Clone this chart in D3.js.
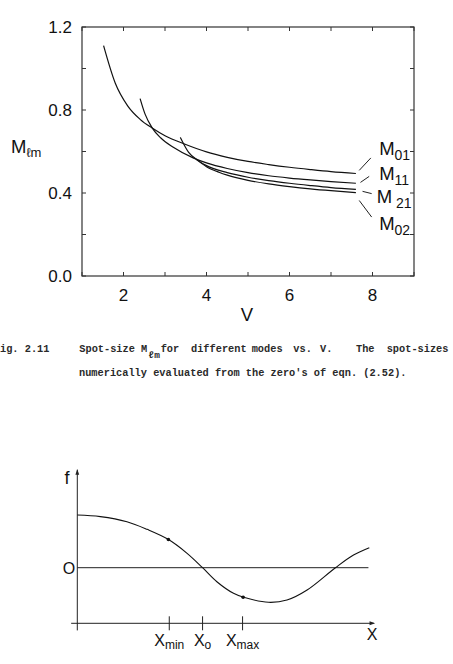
<!DOCTYPE html>
<html>
<head>
<meta charset="utf-8">
<script src="https://cdn.jsdelivr.net/npm/d3@7"></script>
<style>
	body { margin: 0; background: #fff; }
	svg { display: block; background: #fff; }
	.sans { font-family: 'Liberation Sans', Arial, Helvetica, sans-serif; fill: #111; }
	.mono { font-family: 'Liberation Mono', 'DejaVu Sans Mono', monospace; fill: #2a2a2a; font-size: 10.3px; font-weight: bold; }
</style>
</head>
<body>
<svg id="svg" width="453" height="664"></svg>
<script>
const $svg = d3.select('#svg')

// ---- top figure data: spot-size M vs V ----
const V_LABELS = [2, 4, 6, 8]
const M_LABELS = [0, 0.4, 0.8, 1.2]
const V_MINOR = [1, 2, 3, 4, 5, 6, 7, 8, 9]
const M_MINOR = [0, 0.2, 0.4, 0.6, 0.8, 1.0, 1.2]

const modeNames = ['01', '11', '21', '02']

const m01 = [[1.52, 1.11], [1.8, 0.93], [2.1, 0.82], [2.4, 0.755], [2.7, 0.712], [3.0, 0.676],
	[3.5, 0.634], [4.0, 0.598], [4.5, 0.572], [5.0, 0.552], [5.5, 0.537], [6.0, 0.524],
	[6.5, 0.513], [7.0, 0.503], [7.6, 0.494]]
const m11 = [[2.4, 0.855], [2.52, 0.78], [2.69, 0.714], [2.9, 0.665], [3.2, 0.62], [3.69, 0.568],
	[4.0, 0.545], [4.5, 0.518], [5.0, 0.498], [5.5, 0.483], [6.0, 0.472], [6.5, 0.463],
	[7.0, 0.455], [7.6, 0.447]]
const m21 = [[3.37, 0.668], [3.57, 0.596], [3.8, 0.556], [4.0, 0.532], [4.5, 0.498], [5.0, 0.476],
	[5.5, 0.46], [6.0, 0.447], [6.5, 0.436], [7.0, 0.426], [7.6, 0.417]]
const m02 = [[3.75, 0.562], [4.0, 0.527], [4.3, 0.5], [4.5, 0.486], [5.0, 0.461], [5.5, 0.444],
	[6.0, 0.431], [6.5, 0.42], [7.0, 0.411], [7.6, 0.402]]

// ---- bottom figure data: f vs X ----
const fCurve = [[0, 1.0], [0.79, 0.97], [1.7, 0.873], [2.39, 0.728], [3.11, 0.539], [3.76, 0.273],
	[4.29, 0], [4.78, -0.266], [5.35, -0.486], [5.7, -0.562], [6.55, -0.657], [7.18, -0.613],
	[7.87, -0.423], [8.84, 0], [9.46, 0.241], [10.0, 0.38]]
const markNames = ['min', 'o', 'max']
const markX = [3.15, 4.29, 5.66]
const dotX = [3.12, 5.68]
const dotF = [0.535, -0.56]

// ================= top chart =================
const frame = { left: 82, right: 414, top: 27, bottom: 276 }

const xScale = d3.scaleLinear().domain([1, 9]).range([frame.left, frame.right])
const yScale = d3.scaleLinear().domain([0, 1.2]).range([frame.bottom, frame.top])

const $top = $svg.append('g')

$top.append('rect')
	.attr('x', frame.left)
	.attr('y', frame.top)
	.attr('width', frame.right - frame.left)
	.attr('height', frame.bottom - frame.top)
	.attr('fill', 'none')
	.attr('stroke', '#333')
	.attr('stroke-width', 1.2)

const TICK = 4
const tickStyle = sel => sel.attr('stroke', '#333').attr('stroke-width', 1)

V_MINOR.forEach(v => {
	$top.append('line').call(tickStyle)
		.attr('x1', xScale(v)).attr('x2', xScale(v))
		.attr('y1', frame.bottom).attr('y2', frame.bottom - TICK)
	$top.append('line').call(tickStyle)
		.attr('x1', xScale(v)).attr('x2', xScale(v))
		.attr('y1', frame.top).attr('y2', frame.top + TICK)
})
M_MINOR.forEach(m => {
	$top.append('line').call(tickStyle)
		.attr('x1', frame.left).attr('x2', frame.left + TICK)
		.attr('y1', yScale(m)).attr('y2', yScale(m))
	$top.append('line').call(tickStyle)
		.attr('x1', frame.right).attr('x2', frame.right - TICK)
		.attr('y1', yScale(m)).attr('y2', yScale(m))
})

$top.selectAll('.xlab').data(V_LABELS).enter().append('text')
	.attr('class', 'sans')
	.attr('x', d => xScale(d))
	.attr('y', 301)
	.attr('text-anchor', 'middle')
	.attr('font-size', 17)
	.text(d => d)

$top.selectAll('.ylab').data(M_LABELS).enter().append('text')
	.attr('class', 'sans')
	.attr('x', 72)
	.attr('y', d => yScale(d) + 6)
	.attr('text-anchor', 'end')
	.attr('font-size', 17)
	.text(d => d3.format('.1f')(d))

$top.append('text')
	.attr('class', 'sans')
	.attr('x', 247)
	.attr('y', 321)
	.attr('text-anchor', 'middle')
	.attr('font-size', 18.5)
	.text('V')

const yTitle = $top.append('text')
	.attr('class', 'sans')
	.attr('x', 11)
	.attr('y', 153)
	.attr('font-size', 18.5)
yTitle.append('tspan').text('M')
yTitle.append('tspan').attr('font-size', 13).attr('dy', 4).text('ℓm')

const generateLine = d3.line()
	.x(d => xScale(d[0]))
	.y(d => yScale(d[1]))
	.curve(d3.curveMonotoneX)

const modes = [m01, m11, m21, m02]
modes.forEach(series => {
	$top.append('path')
		.attr('d', generateLine(series))
		.attr('fill', 'none')
		.attr('stroke', '#111')
		.attr('stroke-width', 1.2)
})

// leader lines and labels, in data units
const leaders = [
	[[7.68, 0.509], [7.96, 0.569]],
	[[7.71, 0.451], [7.92, 0.48]],
	[[7.76, 0.408], [7.98, 0.397]],
	[[7.68, 0.364], [7.98, 0.284]]
]
const labelPos = [[8.16, 0.585], [8.16, 0.464], [8.1, 0.352], [8.16, 0.223]]

leaders.forEach(([a, b]) => {
	$top.append('line')
		.attr('x1', xScale(a[0])).attr('y1', yScale(a[1]))
		.attr('x2', xScale(b[0])).attr('y2', yScale(b[1]))
		.attr('stroke', '#222')
		.attr('stroke-width', 1)
})

modeNames.forEach((name, i) => {
	const $t = $top.append('text')
		.attr('class', 'sans')
		.attr('x', xScale(labelPos[i][0]))
		.attr('y', yScale(labelPos[i][1]))
		.attr('font-size', 18.5)
	$t.append('tspan').text('M')
	$t.append('tspan')
		.attr('font-size', 14)
		.attr('dy', 5)
		.attr('dx', name === '21' ? 4 : 0)
		.text(name)
})

// ================= caption =================
const caption1 = [
	[0, 'ig. 2.11'], [79.3, 'Spot-size M'], [160.7, 'for'], [191, 'different'],
	[251.7, 'modes'], [293.3, 'vs.'], [320, 'V.'], [356, 'The'], [386.7, 'spot-sizes']
]
caption1.forEach(([x, s]) => {
	$svg.append('text').attr('class', 'mono').attr('x', x).attr('y', 352).text(s)
})
$svg.append('text').attr('class', 'mono')
	.attr('x', 148.5).attr('y', 358).style('font-size', '9.5px').text('ℓm')
$svg.append('text').attr('class', 'mono')
	.attr('x', 79).attr('y', 376)
	.text("numerically evaluated from the zero's of eqn. (2.52).")

// ================= bottom chart =================
const xScale2 = d3.scaleLinear().domain([0, 10]).range([77.3, 369.3])
const yScale2 = d3.scaleLinear().domain([-1, 1]).range([567.7 + 52.7, 567.7 - 52.7])

const $bot = $svg.append('g')

const arrow = (x, y, dir) => {
	const s = 3.5
	const pts = dir === 'up'
		? [[x, y], [x - s * 0.55, y + s * 1.6], [x + s * 0.55, y + s * 1.6]]
		: [[x, y], [x - s * 1.6, y - s * 0.55], [x - s * 1.6, y + s * 0.55]]
	$bot.append('path')
		.attr('d', d3.line()(pts) + 'Z')
		.attr('fill', '#222')
}

// axes
const axisY = xScale2(0)
$bot.append('line')
	.attr('x1', axisY).attr('x2', axisY)
	.attr('y1', yScale2(-1.19)).attr('y2', yScale2(1.86))
	.attr('stroke', '#222').attr('stroke-width', 1)
arrow(axisY, yScale2(1.87), 'up')

const axisX = yScale2(-1.055)
$bot.append('line')
	.attr('x1', xScale2(-0.21)).attr('x2', xScale2(10.15))
	.attr('y1', axisX).attr('y2', axisX)
	.attr('stroke', '#222').attr('stroke-width', 1)
arrow(xScale2(10.2), axisX, 'right')

// zero line
$bot.append('line')
	.attr('x1', xScale2(0)).attr('x2', xScale2(9.97))
	.attr('y1', yScale2(0)).attr('y2', yScale2(0))
	.attr('stroke', '#222').attr('stroke-width', 1)

$bot.append('path')
	.attr('d', d3.line()
		.x(d => xScale2(d[0]))
		.y(d => yScale2(d[1]))
		.curve(d3.curveCatmullRom)(fCurve))
	.attr('fill', 'none')
	.attr('stroke', '#111')
	.attr('stroke-width', 1.1)

dotX.forEach((x, i) => {
	$bot.append('circle')
		.attr('cx', xScale2(x))
		.attr('cy', yScale2(dotF[i]))
		.attr('r', 1.8)
		.attr('fill', '#111')
})

markX.forEach((x, i) => {
	$bot.append('line')
		.attr('x1', xScale2(x)).attr('x2', xScale2(x))
		.attr('y1', axisX - 7).attr('y2', axisX + 7)
		.attr('stroke', '#222').attr('stroke-width', 1)
	const $t = $bot.append('text')
		.attr('class', 'sans')
		.attr('x', xScale2(x))
		.attr('y', 646)
		.attr('text-anchor', 'middle')
		.attr('font-size', 16)
	$t.append('tspan').text('X')
	$t.append('tspan').attr('font-size', 12).attr('dy', 3).text(markNames[i])
})

$bot.append('text').attr('class', 'sans')
	.attr('x', 372).attr('y', 640).attr('text-anchor', 'middle')
	.attr('font-size', 16).text('X')
$bot.append('text').attr('class', 'sans')
	.attr('x', 67).attr('y', 484).attr('text-anchor', 'middle')
	.attr('font-size', 18).text('f')
$bot.append('text').attr('class', 'sans')
	.attr('x', 69).attr('y', 574).attr('text-anchor', 'middle')
	.attr('font-size', 16).text('O')
</script>
</body>
</html>
